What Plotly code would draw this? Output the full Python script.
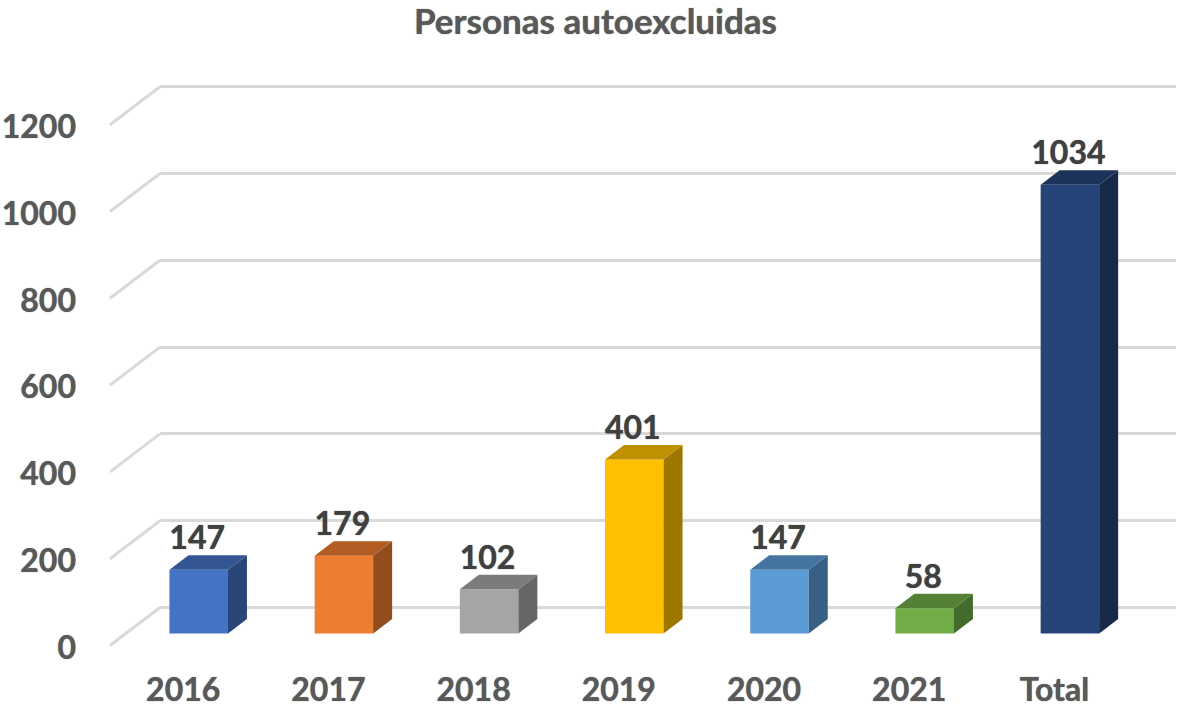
import plotly.graph_objects as go

categories = ["2016", "2017", "2018", "2019", "2020", "2021", "Total"]
values = [147, 179, 102, 401, 147, 58, 1034]
front_colors = ["#4472C4", "#ED7D31", "#A5A5A5", "#FFC000", "#5B9BD5", "#70AD47", "#264478"]
y_ticks = [0, 200, 400, 600, 800, 1000, 1200]

W, H = 1178, 707
PLOT_BOTTOM = 668          # px
PX_PER_UNIT = 0.434
Y0 = 633.5                 # px of value 0 on the bar plane
X0, PITCH = 198.7, 145.2   # px of first bar centre, bar spacing
LEFT = 77                  # left edge of the bar subplot
TICK_FONT = dict(family="Lato", size=32, color="#595959", weight="bold",
                 shadow="0px 0px 1px #595959")

def darker(hex_color, f):
    r, g, b = (int(hex_color[i:i + 2], 16) for i in (1, 3, 5))
    return f"rgb({int(r * f)},{int(g * f)},{int(b * f)})"

def xr(left, right):
    return [(left - X0) / PITCH, (right - X0) / PITCH]

def yr(zero_px):
    return [(zero_px - PLOT_BOTTOM) / PX_PER_UNIT, zero_px / PX_PER_UNIT]

bar_w = 58.5 / PITCH
dep_x, dep_y = 19 / PITCH, 14.5 / PX_PER_UNIT
front_shift = (Y0 - 645.5) / PX_PER_UNIT      # wall front edge, value units
tick_text_shift = (Y0 - 647.5) / PX_PER_UNIT  # y tick text sits slightly lower
wall_x0, wall_x1 = (110 - X0) / PITCH, (160 - X0) / PITCH
wall_dy = 38 / PX_PER_UNIT
label_shift = 15.5 / PITCH
label_gap = 2 / PX_PER_UNIT
data_label_dx = 1.5 / PITCH

fig = go.Figure()

# back wall subplot (needs a trace to exist; gridlines come from its y axis)
fig.add_trace(go.Scatter(x=[0, 1], y=[0, 0], mode="none", xaxis="x", yaxis="y", hoverinfo="skip"))

# left wall diagonals
for v in y_ticks:
    fig.add_trace(go.Scatter(
        x=[wall_x0, wall_x1],
        y=[v + front_shift, v + front_shift + wall_dy],
        mode="lines", line=dict(color="#D9D9D9", width=3),
        xaxis="x2", yaxis="y2", hoverinfo="skip"))

# bars: front face
xs = list(range(len(categories)))
fig.add_trace(go.Bar(
    x=xs, y=values, width=bar_w, marker=dict(color=front_colors, line_width=0),
    xaxis="x2", yaxis="y2"))

# bars: side and top faces
for i, v in enumerate(values):
    l, r = i - bar_w / 2, i + bar_w / 2
    fig.add_trace(go.Scatter(
        x=[r, r + dep_x, r + dep_x, r, r], y=[0, dep_y, v + dep_y, v, 0],
        fill="toself", fillcolor=darker(front_colors[i], 0.62),
        mode="lines", line=dict(width=0), xaxis="x2", yaxis="y2", hoverinfo="skip"))
    fig.add_trace(go.Scatter(
        x=[l, l + dep_x, r + dep_x, r, l], y=[v, v + dep_y, v + dep_y, v, v],
        fill="toself", fillcolor=darker(front_colors[i], 0.75),
        mode="lines", line=dict(width=0), xaxis="x2", yaxis="y2", hoverinfo="skip"))

# data labels
fig.add_trace(go.Scatter(
    x=[i - data_label_dx for i in xs], y=[v + dep_y - label_gap for v in values],
    text=[str(v) for v in values],
    mode="text", textposition="top center",
    textfont=dict(family="Lato", size=32, color="#404040", weight="bold",
                  shadow="0px 0px 1px #404040"),
    xaxis="x2", yaxis="y2", hoverinfo="skip"))

fig.update_layout(
    width=W, height=H, autosize=False, showlegend=False,
    margin=dict(l=0, r=0, t=0, b=H - PLOT_BOTTOM),
    paper_bgcolor="white", plot_bgcolor="rgba(0,0,0,0)",
    title=dict(text="<b>Personas autoexcluidas</b>", x=595.5 / W, xanchor="center",
               y=1 - 22 / H, yanchor="middle", automargin=False,
               font=dict(family="Lato", size=35, color="#595959",
                         shadow="0px 0px 1px #595959")),
    # back wall: real gridlines
    xaxis=dict(domain=[160 / W, 1176 / W], visible=False, range=[0, 1], automargin=False),
    yaxis=dict(range=yr(607.5), tickvals=y_ticks, showticklabels=False, ticks="",
               showgrid=True, gridcolor="#D9D9D9", gridwidth=3, automargin=False,
               zeroline=False, showline=False, anchor="x"),
    # bar plane
    xaxis2=dict(domain=[LEFT / W, 1], range=xr(LEFT, W), anchor="y2", automargin=False,
                tickvals=[i - label_shift for i in xs], ticktext=categories,
                showgrid=False, zeroline=False, showline=False, ticks="", ticklen=0,
                tickfont=TICK_FONT),
    yaxis2=dict(range=yr(Y0), anchor="x2", automargin=False,
                tickvals=[v + tick_text_shift for v in y_ticks], ticktext=[str(v) for v in y_ticks],
                showgrid=False, zeroline=False, showline=False, ticks="", ticklen=0,
                tickfont=TICK_FONT),
)

fig.write_html("out.html", config=dict(displayModeBar=False),
               post_script="document.body.style.margin='0';document.documentElement.style.overflow='hidden';")
